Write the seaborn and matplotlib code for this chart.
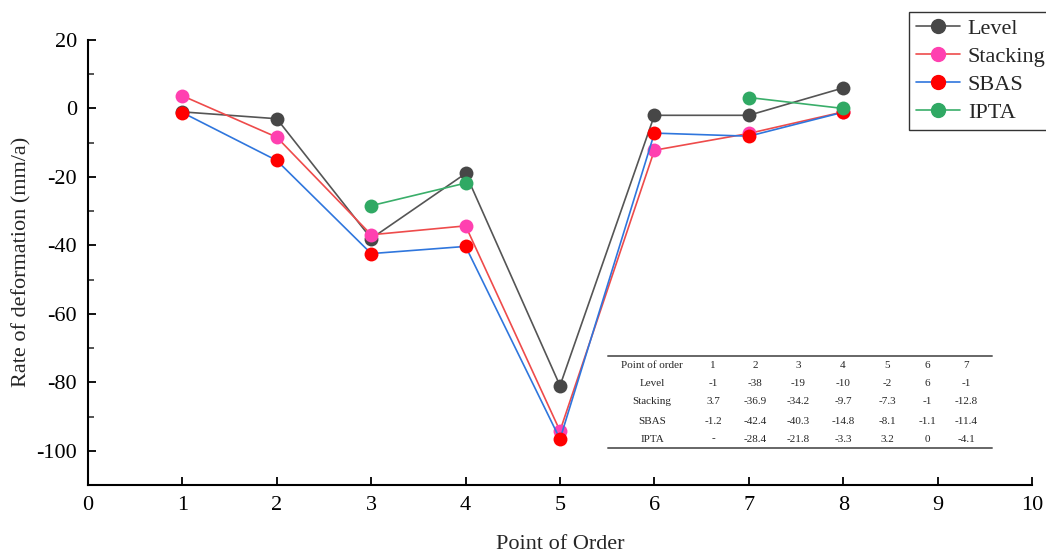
import numpy as np
import pandas as pd
import seaborn as sns
import matplotlib.pyplot as plt
from matplotlib.lines import Line2D
from matplotlib.ticker import MultipleLocator

points = [1, 2, 3, 4, 5, 6, 7, 8]
level = [-1, -3, -38, -19, -81, -2, -2, 6]
stacking = [3.7, -8.4, -36.9, -34.3, -94.2, -12.2, -7.3, -1]
sbas = [-1.2, -15.2, -42.4, -40.3, -96.6, -7.2, -8.1, -1.1]
ipta = [np.nan, np.nan, -28.4, -21.8, np.nan, np.nan, 3.2, 0]

series_names = ['Level', 'Stacking', 'SBAS', 'IPTA']
line_colors = ['#555555', '#ee4b4b', '#2f76dd', '#3aae6a']
marker_colors = ['#474747', '#ff40b0', '#ff0000', '#30a964']

# inset table
table_header = ['Point of order', '1', '2', '3', '4', '5', '6', '7']
table_rows = [
    ['Level', '-1', '-38', '-19', '-10', '-2', '6', '-1'],
    ['Stacking', '3.7', '-36.9', '-34.2', '-9.7', '-7.3', '-1', '-12.8'],
    ['SBAS', '-1.2', '-42.4', '-40.3', '-14.8', '-8.1', '-1.1', '-11.4'],
    ['IPTA', '-', '-28.4', '-21.8', '-3.3', '3.2', '0', '-4.1'],
]

W, H = 1046, 552

sns.set_theme(style='white')
plt.rcParams['font.family'] = ['Liberation Serif', 'DejaVu Serif']
plt.rcParams['axes.unicode_minus'] = False

fig = plt.figure(figsize=(W / 100, H / 100), dpi=100)
ax = fig.add_axes([88 / W, 1 - 485 / H, (1032 - 88) / W, (485 - 40) / H])

data = pd.DataFrame({'point': points, 'Level': level, 'Stacking': stacking,
                     'SBAS': sbas, 'IPTA': ipta})

handles = []
for name, lc, mc in zip(series_names, line_colors, marker_colors):
    sub = data[['point', name]].dropna()
    # draw segments only between consecutive points that exist
    groups = (sub['point'].diff() != 1).cumsum()
    for _, g in sub.groupby(groups):
        sns.lineplot(x=g['point'], y=g[name], ax=ax, color=lc, lw=1.2,
                     marker='o', markersize=10, markerfacecolor=mc,
                     markeredgecolor=mc, markeredgewidth=0, legend=False)
    handles.append(Line2D([], [], color=lc, lw=1.2, marker='o', markersize=10,
                          markerfacecolor=mc, markeredgecolor=mc))

ax.set_xlim(0, 10)
ax.set_ylim(-110, 20)
ax.xaxis.set_major_locator(MultipleLocator(1))
ax.yaxis.set_major_locator(MultipleLocator(20))
ax.yaxis.set_minor_locator(MultipleLocator(10))
ax.tick_params(axis='both', which='major', direction='in', length=6, width=1.3,
               labelsize=16, colors='black', pad=8)
ax.tick_params(axis='y', which='minor', direction='in', length=4, width=1.1, left=True)
ax.tick_params(axis='x', which='major', bottom=True)
ax.tick_params(axis='y', which='major', left=True)
for s in ['top', 'right']:
    ax.spines[s].set_visible(False)
for s in ['left', 'bottom']:
    ax.spines[s].set_color('black')
    ax.spines[s].set_linewidth(1.5)

ax.set_xlabel('Point of Order', fontsize=16, labelpad=14)
ax.set_ylabel('')
fig.text(22 / W, 1 - 262 / H, 'Rate of deformation (mm/a)', rotation=90,
         ha='center', va='center', fontsize=16)

leg = fig.legend(handles, series_names, loc='upper right',
                 bbox_to_anchor=(1.006, 1 - 12 / H), fontsize=16, frameon=True,
                 fancybox=False, framealpha=1, edgecolor='#333333',
                 handlelength=2.0, handletextpad=0.35, borderpad=0.3,
                 labelspacing=0.33, borderaxespad=0)
leg.get_frame().set_linewidth(1.0)

# inset table drawn as text in figure pixels
col_x = [652, 713, 755, 798, 843, 887, 927, 966]
row_y = [365, 384, 402, 421, 439]
for txt, cx in zip(table_header, col_x):
    fig.text(cx / W, 1 - row_y[0] / H, txt, ha='center', va='center', fontsize=8)
for row, ry in zip(table_rows, row_y[1:]):
    for txt, cx in zip(row, col_x):
        fig.text(cx / W, 1 - ry / H, txt, ha='center', va='center', fontsize=8)
for yy in [356, 448]:
    fig.add_artist(Line2D([608 / W, 992 / W], [1 - yy / H, 1 - yy / H],
                          color='#666666', lw=1.4))

fig.savefig('out.png', dpi=100)
